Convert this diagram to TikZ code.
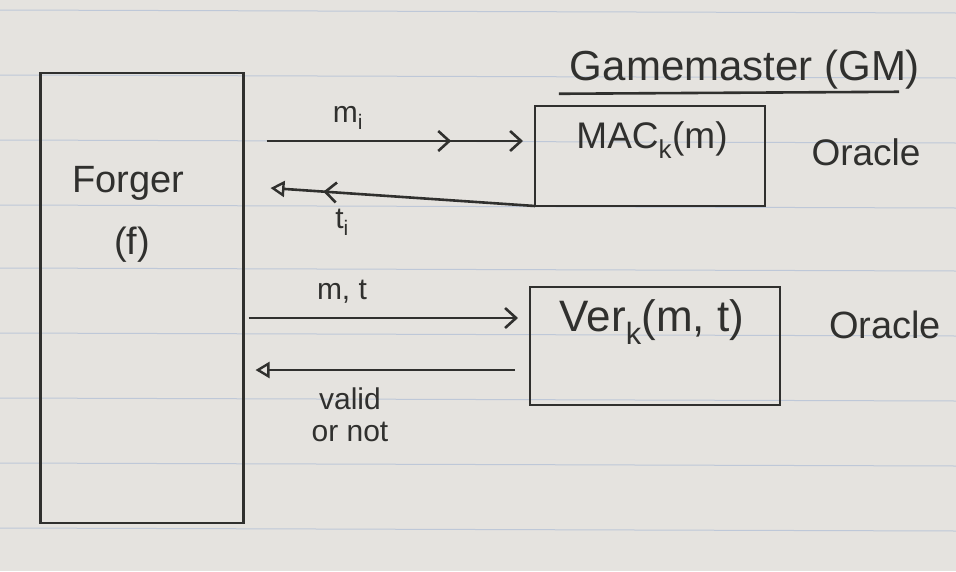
\documentclass[tikz,border=0pt]{standalone}
\usepackage{fontspec}
\setmainfont{Liberation Sans}
\usetikzlibrary{arrows.meta,calc,decorations.markings}
\definecolor{paper}{RGB}{229,227,223}
\definecolor{ink}{RGB}{48,48,46}
\definecolor{ruling}{RGB}{190,200,216}
\begin{document}
\begin{tikzpicture}[x=1pt,y=-1pt,
  box/.style={draw=ink, line width=2.6pt, inner sep=0pt, outer sep=0pt},
  txt/.style={text=ink, inner sep=1pt},
  conn/.style={draw=ink, line width=2.6pt},
  barb/.style={-{Straight Barb[length=11pt,width=20pt,line width=2.6pt]}},
  opentip/.style={-{Triangle[open,length=14pt,width=16pt,line width=2.4pt]}},
  midbarb/.style={postaction={decorate},
    decoration={markings, mark=at position #1 with {\arrow{Straight Barb[length=11pt,width=20pt,line width=2.6pt]}}}},
  big/.style={font=\fontsize{38}{42}\selectfont},
  mid/.style={font=\fontsize{37}{40}\selectfont},
  small/.style={font=\fontsize{30}{32}\selectfont},
]
\fill[paper] (0,0) rectangle (956,571);
\useasboundingbox (0,0) rectangle (956,571);
\foreach \yy in {10,75,140,205,268,333,398,463,528}
  \draw[ruling, line width=1pt] (0,\yy) -- (956,\yy+3);

% Forger
\node[box, minimum width=203pt, minimum height=450pt] (forger) at (142,298) {};
\node[txt, big] (forgert) at (128,183) {Forger};
\node[txt, big] (fl) at (132,245) {(f)};

% Gamemaster
\node[txt, font=\fontsize{42}{46}\selectfont] (gm) at (745,70) {Gamemaster (GM)};
\draw[conn] ($(gm.south west)+(-10,3)$) -- ($(gm.south east)+(-22,1)$);

% MAC oracle
\node[box, minimum width=230pt, minimum height=100pt] (mac) at (650,156) {};
\node[txt, mid] (macl) at (652,140) {MAC\textsubscript{k}(m)};
\node[txt, mid] (or1) at (866,152) {Oracle};

% Ver oracle
\node[box, minimum width=250pt, minimum height=118pt] (ver) at (655,346) {};
\node[txt, font=\fontsize{44}{48}\selectfont] (verl) at (652,322) {Ver\textsubscript{k}(m, t)};
\node[txt, big] (or2) at (885,325) {Oracle};

% connector coordinates
\coordinate (y1) at (0,141);
\coordinate (y2) at (0,188);
\coordinate (y3) at (0,318);
\coordinate (y4) at (0,370);

\draw[conn, barb, midbarb=0.72] ($(forger.east|-y1)+(23,0)$) -- ($(mac.west|-y1)+(-12,0)$);
\draw[conn, opentip, midbarb=0.8] (mac.south west) -- ($(forger.east|-y2)+(27,0)$);
\node[txt, small] (mi) at (348,118) {m\textsubscript{i}};
\node[txt, small] (ti) at (342,222) {t\textsubscript{i}};

\draw[conn, barb] ($(forger.east|-y3)+(5,0)$) -- ($(ver.west|-y3)+(-12,0)$);
\draw[conn, opentip] ($(ver.west|-y4)+(-15,0)$) -- ($(forger.east|-y4)+(12,0)$);
\node[txt, small] (mt) at (342,292) {m, t};
\node[txt, small, align=center] (vn) at (350,415) {valid\\or not};
\end{tikzpicture}
\end{document}
